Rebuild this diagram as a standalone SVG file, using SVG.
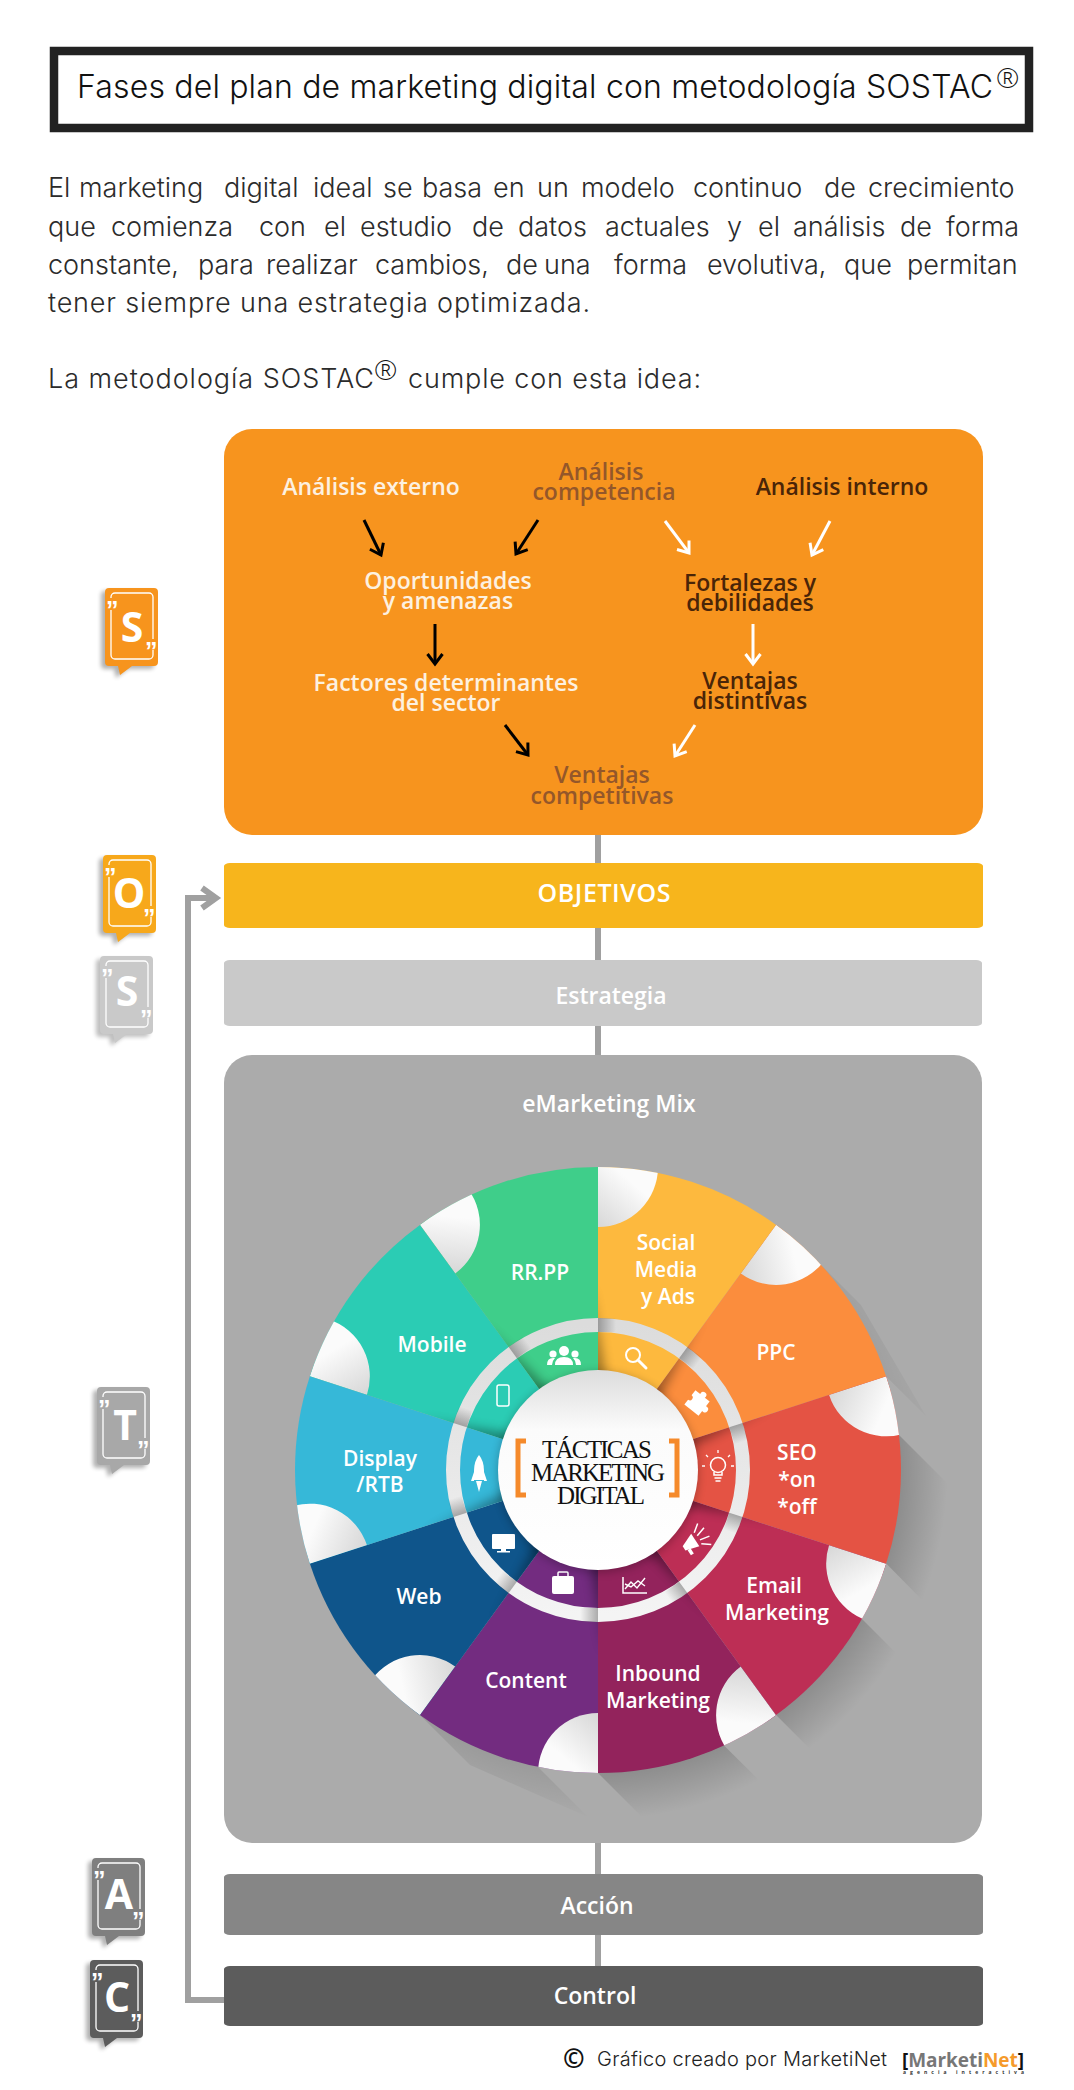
<svg xmlns="http://www.w3.org/2000/svg" width="1074" height="2090" viewBox="0 0 1074 2090">
<style>
.lt{font-family:"Inter","Liberation Sans",sans-serif;font-weight:300;fill:#2b2b2b}
.rg{font-family:"Open Sans","Liberation Sans",sans-serif;font-weight:300;font-size:28px;fill:#111}
.b{font-family:"Open Sans","Liberation Sans",sans-serif;font-weight:600}
.mid{text-anchor:middle}
.or{font-size:23px}
.w{fill:#fdf1e0}
.d{fill:#4a2508}
.br{fill:#94572a}
.bar{font-size:23px;fill:#fff;text-anchor:middle}
.seg{font-size:21px;fill:#fff;text-anchor:middle;font-family:"Open Sans","Liberation Sans",sans-serif;font-weight:600}
.ct{font-family:"Liberation Serif",serif;font-size:25px;fill:#111;text-anchor:middle}
.tq{font-family:"Liberation Sans",sans-serif;font-weight:700;font-size:25px;fill:#fff}
.tl{font-size:41px;fill:#fff;text-anchor:middle;font-weight:700}
.ts{fill:none;stroke:#fff;stroke-width:1.3}
.ak{fill:none;stroke:#000;stroke-width:3}
.aw{fill:none;stroke:#fff;stroke-width:3}
.ic{fill:#fff;stroke:none}
.il{fill:none;stroke:#fff;stroke-width:2}
.ln{fill:none;stroke:#a0a0a0;stroke-width:6}
</style>
<defs>
<marker id="mk" markerUnits="userSpaceOnUse" markerWidth="24" markerHeight="24" refX="13" refY="12" orient="auto"><path d="M3 4.5 L13 12 L3 19.5" fill="none" stroke="#000" stroke-width="3"/></marker>
<marker id="mw" markerUnits="userSpaceOnUse" markerWidth="24" markerHeight="24" refX="13" refY="12" orient="auto"><path d="M3 4.5 L13 12 L3 19.5" fill="none" stroke="#fff" stroke-width="3"/></marker>
<filter id="bl6" x="-100%" y="-20%" width="300%" height="140%"><feGaussianBlur stdDeviation="6"/></filter>
<filter id="bl2" x="-30%" y="-30%" width="160%" height="160%"><feGaussianBlur stdDeviation="2"/></filter>
<filter id="bl4" x="-20%" y="-20%" width="140%" height="140%"><feGaussianBlur stdDeviation="4"/></filter>
<path id="sec" d="M598 1470 L598 1167 A303 303 0 0 1 776.1 1224.9 Z"/>
<clipPath id="secc"><use href="#sec"/></clipPath>
<linearGradient id="bite" gradientUnits="userSpaceOnUse" x1="600" y1="1225" x2="635" y2="1185"><stop offset="0" stop-color="#d9d9d9"/><stop offset="1" stop-color="#fbfbfb"/></linearGradient>
<linearGradient id="rs"><stop offset="0" stop-color="#000" stop-opacity=".3"/><stop offset="1" stop-color="#000" stop-opacity="0"/></linearGradient>
<linearGradient id="ringg" x1="0" y1="0" x2="0" y2="1"><stop offset="0" stop-color="#dcdcdc"/><stop offset="1" stop-color="#f4f4f4"/></linearGradient>
<linearGradient id="discg" x1="0" y1="0" x2="0" y2="1"><stop offset="0" stop-color="#dcdcdc"/><stop offset=".3" stop-color="#fbfbfb"/><stop offset="1" stop-color="#fff"/></linearGradient>
<radialGradient id="lsh" gradientUnits="userSpaceOnUse" cx="598" cy="1470" r="350"><stop offset=".86" stop-color="#000" stop-opacity=".18"/><stop offset="1" stop-color="#000" stop-opacity="0"/></radialGradient>
<g id="seam">
<circle cx="598" cy="1167" r="60" fill="url(#bite)" clip-path="url(#secc)"/>
<polygon points="590,1285 590,1480 622,1480" fill="#000" opacity=".42" filter="url(#bl6)" clip-path="url(#secc)"/>
</g>
<path id="tag" d="M4 0 H49 a4 4 0 0 1 4 4 V74 a4 4 0 0 1 -4 4 H27 L15 87 L13 78 H4 a4 4 0 0 1 -4 -4 V4 a4 4 0 0 1 4 -4Z"/>
<path id="tagl" d="M6 22 V67 a4 4 0 0 0 4 4 H44 a4 4 0 0 0 4 -4 V62 M48 51 V9 a4 4 0 0 0 -4 -4 H10 a4 4 0 0 0 -4 4 V10"/>
</defs>
<rect width="1074" height="2090" fill="#fff"/>

<g id="title">
<rect x="54" y="51" width="975" height="77" fill="#fff" stroke="#222" stroke-width="8.5"/>
<text class="lt" x="77" y="98" font-size="32" textLength="916" style="fill:#111">Fases del plan de marketing digital con metodología SOSTAC</text>
<text class="rg" x="996" y="88">®</text>
</g>

<g id="intro">
<text class="lt" y="197" font-size="27"><tspan x="48">El</tspan> <tspan x="79">marketing</tspan> <tspan x="224">digital</tspan> <tspan x="313">ideal</tspan> <tspan x="383">se</tspan> <tspan x="422">basa</tspan> <tspan x="493">en</tspan> <tspan x="537">un</tspan> <tspan x="581">modelo</tspan> <tspan x="693">continuo</tspan> <tspan x="824">de</tspan> <tspan x="868">crecimiento</tspan></text>
<text class="lt" y="236" font-size="27"><tspan x="48">que</tspan> <tspan x="111">comienza</tspan> <tspan x="259">con</tspan> <tspan x="324">el</tspan> <tspan x="360">estudio</tspan> <tspan x="472">de</tspan> <tspan x="518">datos</tspan> <tspan x="605">actuales</tspan> <tspan x="727">y</tspan> <tspan x="758">el</tspan> <tspan x="793">análisis</tspan> <tspan x="900">de</tspan> <tspan x="946">forma</tspan></text>
<text class="lt" y="274" font-size="27"><tspan x="48">constante,</tspan> <tspan x="198">para</tspan> <tspan x="266">realizar</tspan> <tspan x="375">cambios,</tspan> <tspan x="506">de</tspan> <tspan x="544">una</tspan> <tspan x="614">forma</tspan> <tspan x="707">evolutiva,</tspan> <tspan x="844">que</tspan> <tspan x="907">permitan</tspan></text>
<text class="lt" x="48" y="312" font-size="27" textLength="542">tener siempre una estrategia optimizada.</text>
<text class="lt" x="48" y="388" font-size="27" textLength="326">La metodología SOSTAC</text>
<text class="rg" x="374" y="380">®</text>
<text class="lt" x="408" y="388" font-size="27" textLength="293">cumple con esta idea:</text>
</g>

<g id="connectors">
<line class="ln" x1="598" y1="830" x2="598" y2="1060"/>
<line class="ln" x1="598" y1="1840" x2="598" y2="1970"/>
<path class="ln" d="M226 2000 H188 V898 H214"/>
<path class="ln" d="M202 888 L216 898 L202 908"/>
</g>

<g id="tag-s1" transform="translate(105 588)"><use href="#tag" x="-4" y="3" fill="#000" opacity=".3" filter="url(#bl2)"/><use href="#tag" fill="#F7941D"/><use href="#tagl" class="ts"/><text class="tq" x="1" y="31">”</text><text class="tq" x="40" y="72">”</text><text class="b tl" x="27" y="54">S</text></g>
<g id="tag-o" transform="translate(103 855)"><use href="#tag" x="-4" y="3" fill="#000" opacity=".3" filter="url(#bl2)"/><use href="#tag" fill="#F7A81B"/><use href="#tagl" class="ts"/><text class="tq" x="1" y="31">”</text><text class="tq" x="40" y="72">”</text><text class="b tl" x="26" y="53">O</text></g>
<g id="tag-s2" transform="translate(100 956)"><use href="#tag" x="-4" y="3" fill="#000" opacity=".25" filter="url(#bl2)"/><use href="#tag" fill="#C9C9C9"/><use href="#tagl" class="ts"/><text class="tq" x="1" y="31">”</text><text class="tq" x="40" y="72">”</text><text class="b tl" x="27" y="50">S</text></g>
<g id="tag-t" transform="translate(97 1387)"><use href="#tag" x="-4" y="3" fill="#000" opacity=".3" filter="url(#bl2)"/><use href="#tag" fill="#A8A8A8"/><use href="#tagl" class="ts"/><text class="tq" x="1" y="31">”</text><text class="tq" x="40" y="72">”</text><text class="b tl" x="28" y="53">T</text></g>
<g id="tag-a" transform="translate(92 1858)"><use href="#tag" x="-4" y="3" fill="#000" opacity=".3" filter="url(#bl2)"/><use href="#tag" fill="#7F7F7F"/><use href="#tagl" class="ts"/><text class="tq" x="1" y="31">”</text><text class="tq" x="40" y="72">”</text><text class="b tl" x="27" y="51">A</text></g>
<g id="tag-c" transform="translate(90 1960)"><use href="#tag" x="-4" y="3" fill="#000" opacity=".3" filter="url(#bl2)"/><use href="#tag" fill="#5C5C5C"/><use href="#tagl" class="ts"/><text class="tq" x="1" y="31">”</text><text class="tq" x="40" y="72">”</text><text class="b tl" x="27" y="52">C</text></g>

<g id="situacion">
<rect x="224" y="429" width="759" height="406" rx="28" fill="#F7941E"/>
<text class="b or w mid" x="371" y="495">Análisis externo</text>
<text class="b or br mid" x="601" y="480">Análisis</text>
<text class="b or br mid" x="604" y="500">competencia</text>
<text class="b or d mid" x="842" y="495">Análisis interno</text>
<text class="b or w mid" x="448" y="589">Oportunidades</text>
<text class="b or w mid" x="448" y="609">y amenazas</text>
<text class="b or d mid" x="750" y="591">Fortalezas y</text>
<text class="b or d mid" x="750" y="611">debilidades</text>
<text class="b or w mid" x="446" y="691">Factores determinantes</text>
<text class="b or w mid" x="446" y="711">del sector</text>
<text class="b or d mid" x="750" y="689">Ventajas</text>
<text class="b or d mid" x="750" y="709">distintivas</text>
<text class="b or br mid" x="602" y="783">Ventajas</text>
<text class="b or br mid" x="602" y="804">competitivas</text>
<g>
<line class="ak" x1="364" y1="520" x2="381" y2="555" marker-end="url(#mk)"/>
<line class="ak" x1="538" y1="520" x2="516" y2="554" marker-end="url(#mk)"/>
<line class="aw" x1="665" y1="521" x2="689" y2="553" marker-end="url(#mw)"/>
<line class="aw" x1="830" y1="521" x2="812" y2="555" marker-end="url(#mw)"/>
<line class="ak" x1="435" y1="624" x2="435" y2="664" marker-end="url(#mk)"/>
<line class="aw" x1="753" y1="624" x2="753" y2="664" marker-end="url(#mw)"/>
<line class="ak" x1="505" y1="725" x2="528" y2="755" marker-end="url(#mk)"/>
<line class="aw" x1="695" y1="725" x2="675" y2="756" marker-end="url(#mw)"/>
</g>
</g>

<g id="objetivos"><rect x="224" y="863" width="759" height="65" rx="6" ry="3" fill="#F7B51C"/><text class="b bar" x="604" y="902" textLength="133" style="font-size:25px">OBJETIVOS</text></g>
<g id="estrategia"><rect x="224" y="960" width="758" height="66" rx="6" ry="3" fill="#C9C9C9"/><text class="b bar" x="611" y="1004">Estrategia</text></g>

<g id="emarketing-mix">
<rect x="224" y="1055" width="758" height="788" rx="28" fill="#ABABAB"/>
<text class="b bar" x="609" y="1112">eMarketing Mix</text>
<path d="M821 1265 L886.2 1376.4 L926 1416 L861 1305Z" fill="url(#lsh)" opacity=".35"/>
<path d="M899 1435 L886.2 1563.6 L932 1610 L950 1486Z" fill="url(#lsh)"/>
<path d="M862 1619 L776.1 1715.1 L826 1765 L912 1669Z" fill="url(#lsh)"/>
<path d="M724 1745.5 L598 1773 L648 1823 L774 1795Z" fill="url(#lsh)"/>
<path d="M538 1767 L419.9 1715.1 L470 1765 L588 1817Z" fill="url(#lsh)" opacity=".55"/>

<g id="seg-social"><g transform="rotate(0 598 1470)"><use href="#sec" fill="#FDB93E"/><use href="#seam"/></g><text class="seg" x="666" y="1250">Social</text><text class="seg" x="666" y="1277">Media</text><text class="seg" x="668" y="1304">y Ads</text></g>
<g id="seg-ppc"><g transform="rotate(36 598 1470)"><use href="#sec" fill="#FB8D3D"/><use href="#seam"/></g><text class="seg" x="776" y="1360">PPC</text></g>
<g id="seg-seo"><g transform="rotate(72 598 1470)"><use href="#sec" fill="#E45344"/><use href="#seam"/></g><text class="seg" x="797" y="1460">SEO</text><text class="seg" x="797" y="1487">*on</text><text class="seg" x="797" y="1514">*off</text></g>
<g id="seg-email"><g transform="rotate(108 598 1470)"><use href="#sec" fill="#BD2E55"/><use href="#seam"/></g><text class="seg" x="774" y="1593">Email</text><text class="seg" x="777" y="1620">Marketing</text></g>
<g id="seg-inbound"><g transform="rotate(144 598 1470)"><use href="#sec" fill="#93235C"/><use href="#seam"/></g><text class="seg" x="658" y="1681">Inbound</text><text class="seg" x="658" y="1708">Marketing</text></g>
<g id="seg-content"><g transform="rotate(180 598 1470)"><use href="#sec" fill="#732C80"/><use href="#seam"/></g><text class="seg" x="526" y="1688">Content</text></g>
<g id="seg-web"><g transform="rotate(216 598 1470)"><use href="#sec" fill="#0F558B"/><use href="#seam"/></g><text class="seg" x="419" y="1604">Web</text></g>
<g id="seg-display"><g transform="rotate(252 598 1470)"><use href="#sec" fill="#36B8D8"/><use href="#seam"/></g><text class="seg" x="380" y="1466">Display</text><text class="seg" x="380" y="1492">/RTB</text></g>
<g id="seg-mobile"><g transform="rotate(288 598 1470)"><use href="#sec" fill="#2BCCB4"/><use href="#seam"/></g><text class="seg" x="432" y="1352">Mobile</text></g>
<g id="seg-rrpp"><g transform="rotate(324 598 1470)"><use href="#sec" fill="#3FCE8A"/><use href="#seam"/></g><text class="seg" x="540" y="1280">RR.PP</text></g>

<g id="ring">
<circle cx="598" cy="1470" r="145" fill="none" stroke="url(#ringg)" stroke-width="14"/>
<rect x="598" y="1318" width="18" height="14" fill="url(#rs)"/>
<rect x="598" y="1318" width="18" height="14" fill="url(#rs)" transform="rotate(36 598 1470)"/>
<rect x="598" y="1318" width="18" height="14" fill="url(#rs)" transform="rotate(72 598 1470)"/>
<rect x="598" y="1318" width="18" height="14" fill="url(#rs)" transform="rotate(108 598 1470)"/>
<rect x="598" y="1318" width="18" height="14" fill="url(#rs)" transform="rotate(144 598 1470)"/>
<rect x="598" y="1318" width="18" height="14" fill="url(#rs)" transform="rotate(180 598 1470)"/>
<rect x="598" y="1318" width="18" height="14" fill="url(#rs)" transform="rotate(216 598 1470)"/>
<rect x="598" y="1318" width="18" height="14" fill="url(#rs)" transform="rotate(252 598 1470)"/>
<rect x="598" y="1318" width="18" height="14" fill="url(#rs)" transform="rotate(288 598 1470)"/>
<rect x="598" y="1318" width="18" height="14" fill="url(#rs)" transform="rotate(324 598 1470)"/>
</g>

<g id="icons">
<g id="ic-people" class="ic"><circle cx="564" cy="1351" r="5"/><circle cx="553" cy="1354" r="3.6"/><circle cx="575" cy="1354" r="3.6"/><path d="M555 1365 q0 -8 9 -8 q9 0 9 8Z"/><path d="M547 1365 q0 -7 6 -7 l2 0 q-3 3 -3 7Z"/><path d="M581 1365 q0 -7 -6 -7 l-2 0 q3 3 3 7Z"/></g>
<g id="ic-search"><circle class="il" cx="633" cy="1355" r="7"/><line class="il" x1="638" y1="1360" x2="646" y2="1368" stroke-linecap="round" style="stroke-width:3"/></g>
<g id="ic-puzzle" class="ic" transform="rotate(38 697 1403)"><rect x="688" y="1394" width="18" height="18"/><circle cx="697" cy="1393" r="3.2"/><circle cx="707" cy="1403" r="3.2"/><circle cx="688" cy="1403" r="2.8" fill="#FB8D3D"/></g>
<g id="ic-bulb"><circle class="il" cx="718" cy="1465" r="7.5" style="stroke-width:1.5"/><path class="il" d="M714 1472 v3 h8 v-3 M714.5 1478 h7 M715.5 1481 h5" style="stroke-width:1.5"/><path class="il" d="M718 1453 v-3 M708 1457 l-2 -2 M728 1457 l2 -2 M705 1466 h-3 M731 1466 h3" style="stroke-width:1.3"/></g>
<g id="ic-mega" class="ic" transform="rotate(-33 693 1542)"><path d="M682 1540 L696 1534 L696 1549 L682 1545Z"/><rect x="684" y="1546" width="3.5" height="6"/><path class="il" d="M699 1535 l8 -6 M700 1539 l10 -3 M700 1544 l10 2 M699 1548 l8 6" style="stroke-width:1.5"/></g>
<g id="ic-chart"><path class="il" d="M623 1577 V1593 H647" style="stroke-width:1.5"/><path class="il" d="M625 1589 L631 1582 L637 1588 L645 1578" style="stroke-width:1.4"/><path class="il" d="M625 1584 L631 1587 L638 1581 L645 1586" style="stroke-width:1.4"/></g>
<g id="ic-case" class="ic"><rect x="552" y="1576" width="22" height="18" rx="2"/><path class="il" d="M558 1576 v-3 q0 -1 1 -1 h8 q1 0 1 1 v3" style="stroke-width:1.5"/></g>
<g id="ic-monitor" class="ic"><rect x="492" y="1534" width="23" height="15" rx="1"/><rect x="501" y="1549" width="5" height="3"/><rect x="497" y="1551" width="13" height="1.5"/></g>
<g id="ic-rocket" class="ic"><path d="M479 1455 q5 6 5 16 l0 9 l-10 0 l0 -9 q0 -10 5 -16Z"/><path d="M474 1472 l-3 9 l3 0Z M484 1472 l3 9 l-3 0Z M476 1481 h6 l-3 11Z"/></g>
<g id="ic-phone"><rect x="497" y="1385" width="12" height="21" rx="2" fill="none" stroke="#fff" stroke-width="1.5"/></g>
</g>

<g id="centro">
<circle cx="598" cy="1472" r="101" fill="#000" opacity=".22" filter="url(#bl4)"/>
<circle cx="598" cy="1470" r="100" fill="url(#discg)"/>
<path d="M526 1441 H518 V1495 H526 M669 1441 H677 V1495 H669" fill="none" stroke="#F58A2B" stroke-width="5"/>
<text class="ct" x="597" y="1458" textLength="110">TÁCTICAS</text>
<text class="ct" x="598" y="1481" textLength="134">MARKETING</text>
<text class="ct" x="601" y="1504" textLength="88">DIGITAL</text>
</g>
</g>

<g id="accion"><rect x="224" y="1874" width="759" height="61" rx="6" ry="3" fill="#868686"/><text class="b bar" x="597" y="1914">Acción</text></g>
<g id="control"><rect x="224" y="1966" width="759" height="60" rx="6" ry="3" fill="#5C5C5C"/><text class="b bar" x="595" y="2004">Control</text></g>

<g id="footer">
<text x="563" y="2068" font-family="Open Sans,sans-serif" font-weight="700" font-size="26" fill="#111">©</text>
<text class="lt" x="597" y="2066" font-size="20" textLength="290" style="fill:#222">Gráfico creado por MarketiNet</text>
<text x="902" y="2067" font-family="Open Sans,sans-serif" font-weight="700" font-size="19" textLength="122" fill="#777"><tspan fill="#111">[</tspan>Marketi<tspan fill="#F59A2B">Net</tspan><tspan fill="#111">]</tspan></text>
<text x="903" y="2074" font-family="Open Sans,sans-serif" font-weight="700" font-size="5" textLength="121" fill="#333">agencia interactiva</text>
</g>
</svg>
